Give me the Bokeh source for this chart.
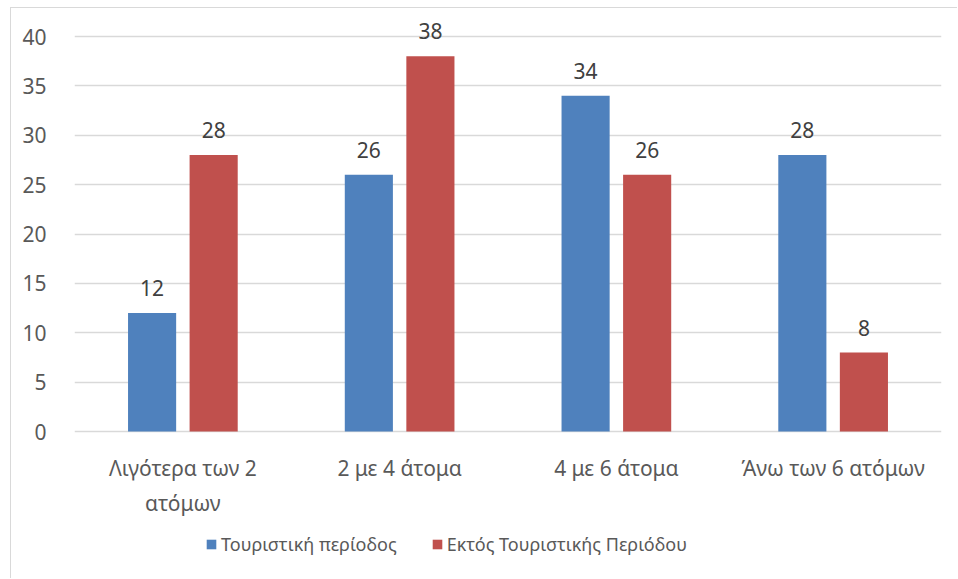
from bokeh.plotting import figure
from bokeh.models import (ColumnDataSource, FactorRange, Legend, LegendItem,
                          FixedTicker, Range1d)
from bokeh.transform import dodge
from bokeh.core.properties import value
from bokeh.embed import file_html
from bokeh.resources import INLINE

# Group-size categories and the two seasonal series
categories = ["Λιγότερα των 2 ατόμων", "2 με 4 άτομα", "4 με 6 άτομα", "Άνω των 6 ατόμων"]
category_labels = ["Λιγότερα των 2\nατόμων", "2 με 4 άτομα", "4 με 6 άτομα", "Άνω των 6 ατόμων"]
series_names = ["Τουριστική περίοδος", "Εκτός Τουριστικής Περιόδου"]
tourist_season = [12, 26, 34, 28]
off_season = [28, 38, 26, 8]
y_ticks = [0, 5, 10, 15, 20, 25, 30, 35, 40]

FONT = "Noto Sans"
FS = "21px"
BLUE = "#4F81BD"
RED = "#C0504D"
GRID = "#D9D9D9"
TEXT = "#595959"

src = ColumnDataSource(dict(
    cat=categories,
    cat_lbl=category_labels,
    base=[0] * len(categories),
    tour=tourist_season,
    off=off_season,
    tour_lbl=[str(v) for v in tourist_season],
    off_lbl=[str(v) for v in off_season],
))

W, H = 947, 571
PX_PER_UNIT = 9.875          # vertical scale of the value axis
TOP_PAD = 28 / PX_PER_UNIT   # room above the 40 line for value labels
BOTTOM_PAD = 148 / PX_PER_UNIT  # room below zero for category labels and legend

p = figure(width=W, height=H, output_backend="svg", toolbar_location=None,
           x_range=FactorRange(factors=categories),
           y_range=Range1d(-BOTTOM_PAD, 40 + TOP_PAD),
           min_border_left=63, min_border_right=17, min_border_top=0,
           min_border_bottom=0)
p.styles = {"margin-left": "10px", "margin-top": "7px",
            "border-left": f"1px solid {GRID}", "border-top": f"1px solid {GRID}"}
p.outline_line_color = None
p.background_fill_color = "white"
p.border_fill_color = "white"

off = 0.142
bw = 0.222
r1 = p.vbar(x=dodge("cat", -off, range=p.x_range), top="tour", width=bw,
            source=src, fill_color=BLUE, line_color=None)
r2 = p.vbar(x=dodge("cat", off, range=p.x_range), top="off", width=bw,
            source=src, fill_color=RED, line_color=None)

# value labels above the bars
for col, lbl, dx in (("tour", "tour_lbl", -off), ("off", "off_lbl", off)):
    p.text(x=dodge("cat", dx, range=p.x_range), y=col, text=lbl, source=src,
           text_align="center", text_baseline="middle", y_offset=-25,
           text_font=value(FONT), text_font_size=FS, text_color="#404040")

# category labels under the baseline
p.text(x="cat", y="base", text="cat_lbl", source=src, text_align="center",
       text_baseline="top", y_offset=22, text_line_height=1.25,
       text_font=value(FONT), text_font_size=FS, text_color=TEXT)

# value axis
p.yaxis.ticker = FixedTicker(ticks=y_ticks)
p.yaxis.axis_line_color = None
p.yaxis.major_tick_line_color = None
p.yaxis.minor_tick_line_color = None
p.yaxis.major_label_standoff = 22
p.yaxis.major_label_text_font = FONT
p.yaxis.major_label_text_font_size = FS
p.yaxis.major_label_text_color = TEXT
p.xaxis.visible = False

p.xgrid.grid_line_color = None
p.ygrid.grid_line_color = GRID
p.ygrid.grid_line_width = 1.5

legend = Legend(items=[LegendItem(label=series_names[0], renderers=[r1]),
                       LegendItem(label=series_names[1], renderers=[r2])],
                orientation="horizontal", location=(131, 23),
                label_text_font=FONT, label_text_font_size="18px",
                label_text_color=TEXT, glyph_width=12, glyph_height=12,
                spacing=34, label_standoff=4, border_line_color=None,
                background_fill_alpha=0, padding=0, margin=0)
p.add_layout(legend, "center")

open("out.html", "w").write(file_html(p, INLINE))
